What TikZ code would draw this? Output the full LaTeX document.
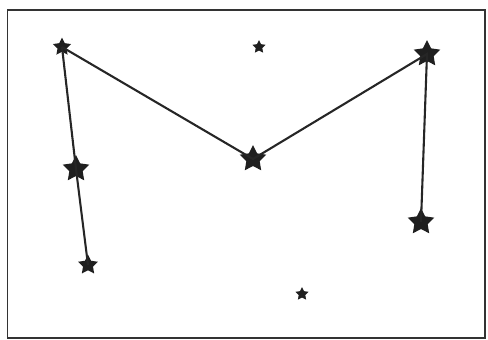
\documentclass[tikz,border=0pt]{standalone}
\usetikzlibrary{shapes.geometric}
\tikzset{
  starnode/.style={star, star points=5, star point ratio=2.0, fill=black!88, draw=none, inner sep=0pt, minimum size=#1},
  link/.style={line width=2.1pt, black!85}
}
\begin{document}
\begin{tikzpicture}[x=1pt,y=-1pt]
\useasboundingbox (0,0) rectangle (488,340);
\draw[line width=1.2pt, black!80] (7.5,10) rectangle (485,338);
\node[starnode=19pt] (a) at (62,47) {};
\node[starnode=14pt] (b) at (259,47) {};
\node[starnode=28pt] (c) at (253,159) {};
\node[starnode=28pt] (d) at (427,54) {};
\node[starnode=28pt] (e) at (421,222) {};
\node[starnode=28pt] (f) at (76,169) {};
\node[starnode=21pt] (g) at (88,265) {};
\node[starnode=14pt] (h) at (302,294) {};
\draw[link] (a.center) -- (f.center) -- (g.center);
\draw[link] (a.center) -- (c.center) -- (d.center) -- (e.center);
\end{tikzpicture}
\end{document}
